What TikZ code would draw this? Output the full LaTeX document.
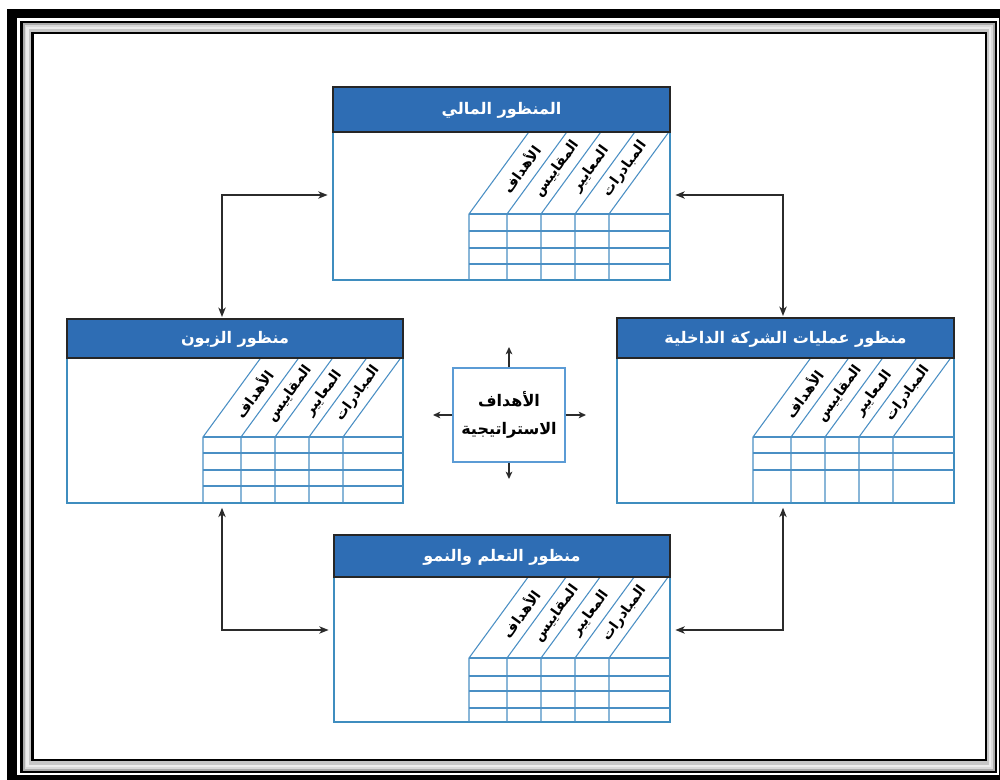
\documentclass[tikz,border=0pt]{standalone}
\usepackage{fontspec}
\usetikzlibrary{arrows.meta,calc,fit}
\TeXXeTstate=1
\newfontfamily\arabicfont[Script=Arabic]{DejaVu Sans}
\definecolor{hdrblue}{HTML}{2E6DB4}
\definecolor{edgeblue}{HTML}{3F8DBF}
\definecolor{gridblue}{HTML}{4A8FC4}
\definecolor{ctrblue}{HTML}{5B9BD5}
\definecolor{arrgray}{HTML}{2B2B2B}
\tikzset{
  bodybox/.style={draw=edgeblue, line width=1.1pt, inner sep=0pt, fill=white},
  hdrbox/.style={draw=black!85, line width=1.1pt, fill=hdrblue, inner sep=0pt},
  hdrtext/.style={inner sep=0pt, text=white, font=\arabicfont\bfseries\fontsize{12}{14}\selectfont},
  gridline/.style={draw=gridblue, line width=0.8pt},
  lbl/.style={rotate=54, inner sep=0pt, text=black, font=\arabicfont\bfseries\fontsize{10.5}{12}\selectfont},
  conn/.style={draw=arrgray, line width=1.1pt, {Stealth[length=7pt,width=5.5pt,inset=2pt]}-{Stealth[length=7pt,width=5.5pt,inset=2pt]}},
  sconn/.style={draw=arrgray, line width=1pt, -{Stealth[length=5.5pt,width=5pt,inset=1.5pt]}},
  ctrbox/.style={draw=ctrblue, line width=1.1pt, fill=white, inner sep=2pt, align=center,
    font=\arabicfont\bfseries\fontsize{12}{21}\selectfont}
}
\newcommand\perspbox[9]{%
  \coordinate (#1-nw) at (#2,#3);
  \coordinate (#1-se) at (#4,#5);
  \coordinate (#1-hse) at (#4,#6);
  \node[bodybox, fit=(#1-nw)(#1-se)] (#1) {};
  \foreach \c in {0,38,72,106,140} {
    \draw[gridline] ({#7+\c},#5) -- ({#7+\c},#8) -- ({#7+\c+0.73*(#8-#6)},#6);
  }
  \draw[gridline] (#7,#8) -- (#4,#8);
  \foreach \a/\b/\t in {0/38/الأهداف,38/72/المقاييس,72/106/المعايير,106/140/المبادرات} {
    \node[lbl] at ({#7+(\a+\b)/2+0.40*(#8-#6)},{#6+0.45*(#8-#6)}) {\beginR\t\endR};
  }
  \node[hdrbox, fit=(#1-nw)(#1-hse)] (#1-h) {};
  \node[hdrtext] (#1-t) at ($(#1-h.center)+(0,1)$) {#9};
}
\begin{document}
\begin{tikzpicture}[x=0.75pt,y=-0.75pt]
\useasboundingbox (0,0) rectangle (1000,780);
% decorative frame
\fill[black] (7,9) rectangle (1010,790);
\fill[white] (17,18) rectangle (999,775);
\fill[black] (20,21) rectangle (997,773);
\fill[gray!65] (22.5,23.5) rectangle (994.5,770.5);
\fill[gray!30] (24.5,25.5) rectangle (992.5,768.5);
\fill[gray!15] (26,27) rectangle (991,767);
\fill[gray!45] (28.5,29.5) rectangle (988.5,764.5);
\fill[black] (31,32) rectangle (987,761);
\fill[white] (33.5,34.5) rectangle (984.5,758.5);

% perspectives
\perspbox{fin}{333}{87}{670}{280}{132}{469}{214}{\beginR المنظور المالي\endR}
\foreach \r in {231,248,264} \draw[gridline] (469,\r) -- (670,\r);

\perspbox{cust}{67}{319}{403}{503}{358}{203}{437}{\beginR منظور الزبون\endR}
\foreach \r in {453,470,486} \draw[gridline] (203,\r) -- (403,\r);

\perspbox{proc}{617}{318}{954}{503}{358}{753}{437}{\beginR منظور عمليات الشركة الداخلية\endR}
\foreach \r in {453,470} \draw[gridline] (753,\r) -- (954,\r);

\perspbox{learn}{334}{535}{670}{722}{577}{469}{658}{\beginR منظور التعلم والنمو\endR}
\foreach \r in {676,691,708} \draw[gridline] (469,\r) -- (670,\r);

% centre
\node[ctrbox, minimum width=84pt, minimum height=70.5pt] (goal) at (509,415)
  {\beginR الأهداف\endR\\\beginR الاستراتيجية\endR};
\coordinate (gu) at (509,347);
\coordinate (gd) at (509,479);
\coordinate (gl) at (433,415);
\coordinate (gr) at (586,415);
\draw[sconn] (goal.north) -- (gu);
\draw[sconn] (goal.south) -- (gd);
\draw[sconn] (goal.west) -- (gl);
\draw[sconn] (goal.east) -- (gr);

% connectors
\coordinate (k1) at (222,195);
\coordinate (k2) at (783,195);
\coordinate (k3) at (222,630);
\coordinate (k4) at (783,630);
\draw[conn] ([xshift=-3.5pt]fin.west |- k1) -| ([yshift=1pt]cust-h.north -| k1);
\draw[conn] ([xshift=3.5pt]fin.east |- k2) -| ([yshift=1pt]proc-h.north -| k2);
\draw[conn] ([yshift=-3pt]cust.south -| k3) |- ([xshift=-3.5pt]learn.west |- k3);
\draw[conn] ([yshift=-3pt]proc.south -| k4) |- ([xshift=3.5pt]learn.east |- k4);
\end{tikzpicture}
\end{document}
